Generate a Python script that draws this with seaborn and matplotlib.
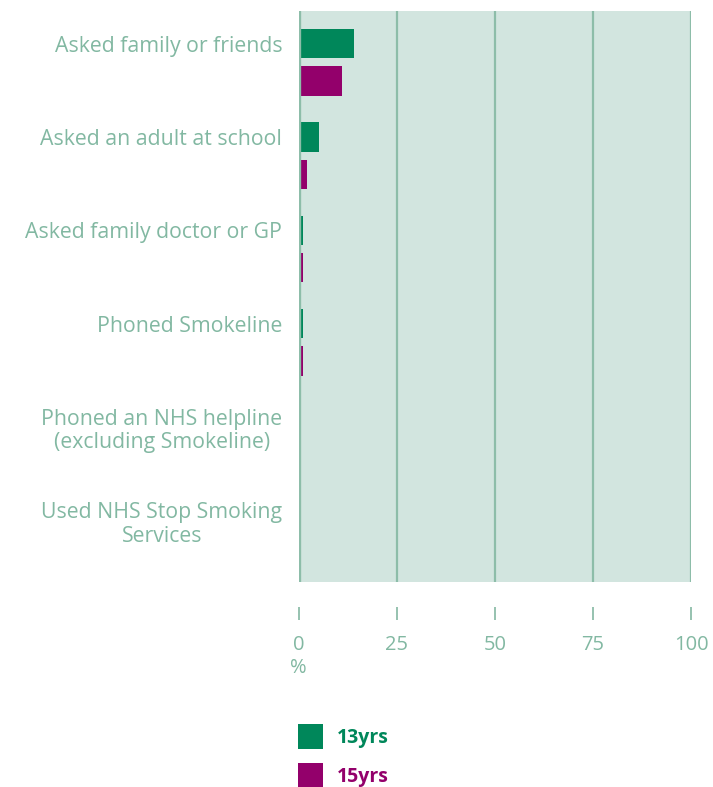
import numpy as np
import pandas as pd
import seaborn as sns
import matplotlib.pyplot as plt
from matplotlib.patches import Patch

# data
categories = [
    "Asked family or friends",
    "Asked an adult at school",
    "Asked family doctor or GP",
    "Phoned Smokeline",
    "Phoned an NHS helpline\n(excluding Smokeline)",
    "Used NHS Stop Smoking\nServices",
]
age_groups = ["13yrs", "15yrs"]
pct_13 = [14, 5, 1, 1, 0, 0]
pct_15 = [11, 2, 1, 1, 0, 0]
x_ticks = [0, 25, 50, 75, 100]

green = "#00875a"
purple = "#93006b"
panel = "#d2e5df"
grid_col = "#8dbda9"
text_col = "#82b8a2"

df = pd.DataFrame({
    "category": categories * 2,
    "group": [age_groups[0]] * len(categories) + [age_groups[1]] * len(categories),
    "pct": pct_13 + pct_15,
})

sns.set_theme(style="white")
plt.rcParams["font.family"] = ["Open Sans", "DejaVu Sans"]

fig = plt.figure(figsize=(7.13, 7.87), dpi=100)
ax = fig.add_axes([299 / 713, 1 - 582 / 787, 392 / 713, 571 / 787])
ax.set_facecolor(panel)

sns.barplot(data=df, y="category", x="pct", hue="group", order=categories,
            hue_order=age_groups, palette=[green, purple], orient="h",
            width=0.8, saturation=1, linewidth=0, legend=False, ax=ax)

# shrink bars a bit so there's a gap between the pair
for p in ax.patches:
    h = p.get_height()
    new_h = h * 30 / 38
    p.set_y(p.get_y() + (h - new_h) / 2)
    p.set_height(new_h)
    p.set_edgecolor("none")

ax.set_xlim(0, 100)
ax.set_ylim(5.57, -0.55)

for v in x_ticks[1:]:
    ax.axvline(v, color=grid_col, lw=1.6, zorder=0.5)
ax.axvline(0, color=grid_col, lw=2.4, zorder=3)

for s in ["top", "right", "left"]:
    ax.spines[s].set_visible(False)
ax.spines["bottom"].set_position(("outward", 18))
ax.spines["bottom"].set_visible(False)

ax.set_xticks(x_ticks)
ax.set_xticklabels([str(v) for v in x_ticks])
ax.tick_params(axis="x", direction="out", length=9.4, width=1.3, color=grid_col,
               labelcolor=text_col, labelsize=14.5, pad=11, bottom=True)

# y labels line up with the upper bar of each pair
ypos = []
for i, c in enumerate(categories):
    off = -0.2
    if "\n" in c:
        off += 0.11
    ypos.append(i + off)
ax.set_yticks(ypos)
ax.set_yticklabels(categories, ha="right", multialignment="center")
ax.tick_params(axis="y", length=0, pad=12, labelcolor=text_col, labelsize=15.3)
for t in ax.get_yticklabels():
    t.set_linespacing(1.17)

ax.set_xlabel("")
ax.set_ylabel("")
fig.text(298 / 713, 1 - 668 / 787, "%", ha="center", va="center",
         color=text_col, fontsize=14.5)

handles = [Patch(facecolor=green, edgecolor="none", label=age_groups[0]),
           Patch(facecolor=purple, edgecolor="none", label=age_groups[1])]
leg = fig.legend(handles=handles, loc="upper left",
                 bbox_to_anchor=(298 / 713, 1 - 724 / 787), frameon=False,
                 prop={"size": 14, "weight": "bold"}, handlelength=1.29,
                 handleheight=1.6, handletextpad=0.7, labelspacing=0.71,
                 borderpad=0, borderaxespad=0)
for txt, col in zip(leg.get_texts(), [green, purple]):
    txt.set_color(col)

fig.savefig("out.png", dpi=100)
